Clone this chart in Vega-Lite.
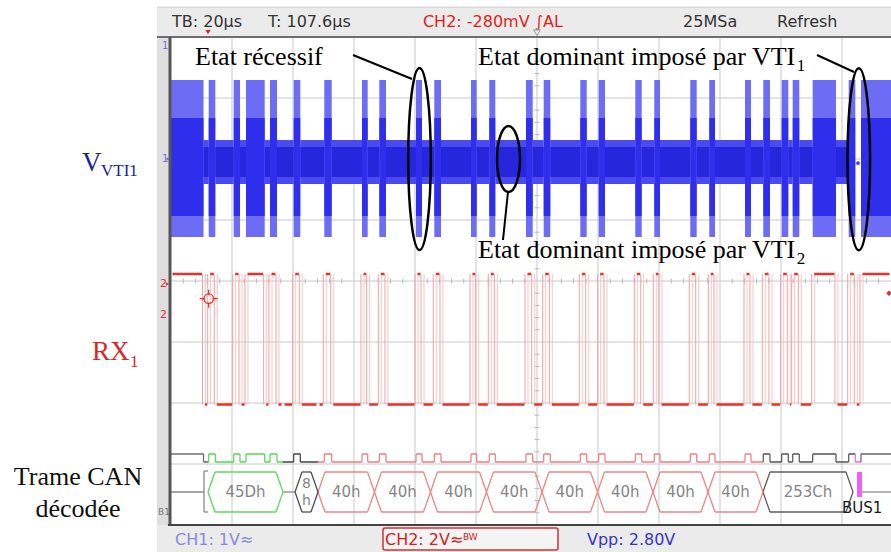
{
"$schema": "https://vega.github.io/schema/vega-lite/v6.json",
"width": 720,
"height": 488,
"autosize": {"type": "none"},
"padding": {"left": 171, "top": 37, "right": 0, "bottom": 27},
"background": "#ffffff",
"config": {"view": {"stroke": null}, "axis": {"disable": true}, "legend": {"disable": true}},
"data": {"values": [{}]},
"datasets": {
"bits": [
{"t0": 0, "t1": 10.66, "rx": 1, "f": "idle"},
{"t0": 10.66, "t1": 12.36, "rx": 0, "f": "idle"},
{"t0": 12.36, "t1": 14.52, "rx": 1, "f": "id"},
{"t0": 14.52, "t1": 20.56, "rx": 0, "f": "id"},
{"t0": 20.56, "t1": 22.62, "rx": 1, "f": "id"},
{"t0": 22.62, "t1": 24.59, "rx": 0, "f": "id"},
{"t0": 24.59, "t1": 30.72, "rx": 1, "f": "id"},
{"t0": 30.72, "t1": 32.46, "rx": 0, "f": "id"},
{"t0": 32.46, "t1": 34.75, "rx": 1, "f": "id"},
{"t0": 34.75, "t1": 36.72, "rx": 0, "f": "id"},
{"t0": 36.72, "t1": 40.23, "rx": 0, "f": "dlc"},
{"t0": 40.23, "t1": 42.39, "rx": 1, "f": "dlc"},
{"t0": 42.39, "t1": 48.2, "rx": 0, "f": "dlc"},
{"t0": 48.2, "t1": 50.26, "rx": 0, "f": "data"},
{"t0": 50.26, "t1": 52.69, "rx": 1, "f": "data"},
{"t0": 52.69, "t1": 62.62, "rx": 0, "f": "data"},
{"t0": 62.62, "t1": 64.49, "rx": 1, "f": "data"},
{"t0": 64.49, "t1": 68.3, "rx": 0, "f": "data"},
{"t0": 68.3, "t1": 70.49, "rx": 1, "f": "data"},
{"t0": 70.49, "t1": 80.33, "rx": 0, "f": "data"},
{"t0": 80.33, "t1": 82.3, "rx": 1, "f": "data"},
{"t0": 82.3, "t1": 86.33, "rx": 0, "f": "data"},
{"t0": 86.33, "t1": 88.52, "rx": 1, "f": "data"},
{"t0": 88.52, "t1": 98.36, "rx": 0, "f": "data"},
{"t0": 98.36, "t1": 100.23, "rx": 1, "f": "data"},
{"t0": 100.23, "t1": 104.36, "rx": 0, "f": "data"},
{"t0": 104.36, "t1": 106.33, "rx": 1, "f": "data"},
{"t0": 106.33, "t1": 116.39, "rx": 0, "f": "data"},
{"t0": 116.39, "t1": 118.59, "rx": 1, "f": "data"},
{"t0": 118.59, "t1": 122.2, "rx": 0, "f": "data"},
{"t0": 122.2, "t1": 124.36, "rx": 1, "f": "data"},
{"t0": 124.36, "t1": 134.2, "rx": 0, "f": "data"},
{"t0": 134.2, "t1": 136.3, "rx": 1, "f": "data"},
{"t0": 136.3, "t1": 140.23, "rx": 0, "f": "data"},
{"t0": 140.23, "t1": 142.3, "rx": 1, "f": "data"},
{"t0": 142.3, "t1": 152.23, "rx": 0, "f": "data"},
{"t0": 152.23, "t1": 154.33, "rx": 1, "f": "data"},
{"t0": 154.33, "t1": 158.46, "rx": 0, "f": "data"},
{"t0": 158.46, "t1": 160.33, "rx": 1, "f": "data"},
{"t0": 160.33, "t1": 170.26, "rx": 0, "f": "data"},
{"t0": 170.26, "t1": 172.36, "rx": 1, "f": "data"},
{"t0": 172.36, "t1": 176.49, "rx": 0, "f": "data"},
{"t0": 176.49, "t1": 178.36, "rx": 1, "f": "data"},
{"t0": 178.36, "t1": 188.2, "rx": 0, "f": "data"},
{"t0": 188.2, "t1": 190.16, "rx": 1, "f": "data"},
{"t0": 190.16, "t1": 194.2, "rx": 0, "f": "data"},
{"t0": 194.2, "t1": 196.39, "rx": 1, "f": "crc"},
{"t0": 196.39, "t1": 200.23, "rx": 0, "f": "crc"},
{"t0": 200.23, "t1": 202.39, "rx": 1, "f": "crc"},
{"t0": 202.39, "t1": 203.84, "rx": 0, "f": "crc"},
{"t0": 203.84, "t1": 206.0, "rx": 1, "f": "crc"},
{"t0": 206.0, "t1": 210.39, "rx": 0, "f": "crc"},
{"t0": 210.39, "t1": 218.03, "rx": 1, "f": "crc"},
{"t0": 218.03, "t1": 222.2, "rx": 0, "f": "crc"},
{"t0": 222.2, "t1": 224.36, "rx": 1, "f": "crc"},
{"t0": 224.36, "t1": 226.23, "rx": 0, "f": "ack"},
{"t0": 226.23, "t1": 236.07, "rx": 1, "f": "eof"}
],
"hex": [
{"t0": 12.13, "t1": 36.72, "label": "45Dh", "f": "id"},
{"t0": 40.66, "t1": 48.2, "label": "8\nh", "f": "dlc"},
{"t0": 48.2, "t1": 66.72, "label": "40h", "f": "data"},
{"t0": 66.72, "t1": 85.08, "label": "40h", "f": "data"},
{"t0": 85.08, "t1": 103.44, "label": "40h", "f": "data"},
{"t0": 103.44, "t1": 121.64, "label": "40h", "f": "data"},
{"t0": 121.64, "t1": 139.84, "label": "40h", "f": "data"},
{"t0": 139.84, "t1": 158.03, "label": "40h", "f": "data"},
{"t0": 158.03, "t1": 176.07, "label": "40h", "f": "data"},
{"t0": 176.07, "t1": 194.1, "label": "40h", "f": "data"},
{"t0": 194.1, "t1": 223.61, "label": "253Ch", "f": "crc"}
]
},
"layer": [
{"mark": {"type": "rect", "color": "#ebebeb"},
 "encoding": {"x": {"datum": -4.59, "type": "quantitative", "scale": {"domain": [0, 236.07], "nice": false, "zero": false}}, "x2": {"datum": 236.07},
  "y": {"datum": 8.49, "type": "quantitative", "scale": {"domain": [0, 8], "nice": false, "zero": false}}, "y2": {"datum": 8}}},
{"mark": {"type": "rect", "color": "#dfdfdf"},
 "encoding": {"x": {"datum": -4.59}, "x2": {"datum": 0}, "y": {"datum": 8}, "y2": {"datum": -0.443}}},
{"mark": {"type": "rect", "color": "#ebebeb"},
 "encoding": {"x": {"datum": -4.59}, "x2": {"datum": 236.07}, "y": {"datum": 0}, "y2": {"datum": -0.443}}},
{"mark": {"type": "rule", "color": "#cfcfcf", "strokeWidth": 1},
 "encoding": {"x": {"datum": -4.59}, "x2": {"datum": 236.07}, "y": {"datum": 8.49}}},

{"data": {"values": [{"g": 20}, {"g": 40}, {"g": 60}, {"g": 80}, {"g": 100}, {"g": 120}, {"g": 140}, {"g": 160}, {"g": 180}, {"g": 200}, {"g": 220}]},
 "mark": {"type": "rule", "color": "#c8c8c8", "strokeWidth": 1},
 "encoding": {"x": {"field": "g", "type": "quantitative"}, "y": {"datum": 0}, "y2": {"datum": 8}}},
{"data": {"values": [{"g": 1}, {"g": 2}, {"g": 3}, {"g": 4}, {"g": 5}, {"g": 6}, {"g": 7}]},
 "mark": {"type": "rule", "color": "#c8c8c8", "strokeWidth": 1},
 "encoding": {"y": {"field": "g", "type": "quantitative"}, "x": {"datum": 0}, "x2": {"datum": 236.07}}},
{"data": {"values": [{"g":4},{"g":8},{"g":12},{"g":16},{"g":24},{"g":28},{"g":32},{"g":36},{"g":44},{"g":48},{"g":52},{"g":56},{"g":64},{"g":68},{"g":72},{"g":76},{"g":84},{"g":88},{"g":92},{"g":96},{"g":104},{"g":108},{"g":112},{"g":116},{"g":124},{"g":128},{"g":132},{"g":136},{"g":144},{"g":148},{"g":152},{"g":156},{"g":164},{"g":168},{"g":172},{"g":176},{"g":184},{"g":188},{"g":192},{"g":196},{"g":204},{"g":208},{"g":212},{"g":216},{"g":224},{"g":228},{"g":232}]},
 "mark": {"type": "rule", "color": "#b8b8b8", "strokeWidth": 1, "yOffset": -2.5, "y2Offset": 2.5},
 "encoding": {"x": {"field": "g", "type": "quantitative"}, "y": {"datum": 4}, "y2": {"datum": 4}}},
{"data": {"values": [{"g":0.2},{"g":0.4},{"g":0.6},{"g":0.8},{"g":1.2},{"g":1.4},{"g":1.6},{"g":1.8},{"g":2.2},{"g":2.4},{"g":2.6},{"g":2.8},{"g":3.2},{"g":3.4},{"g":3.6},{"g":3.8},{"g":4.2},{"g":4.4},{"g":4.6},{"g":4.8},{"g":5.2},{"g":5.4},{"g":5.6},{"g":5.8},{"g":6.2},{"g":6.4},{"g":6.6},{"g":6.8},{"g":7.2},{"g":7.4},{"g":7.6},{"g":7.8}]},
 "mark": {"type": "rule", "color": "#b8b8b8", "strokeWidth": 1, "xOffset": -2.5, "x2Offset": 2.5},
 "encoding": {"y": {"field": "g", "type": "quantitative"}, "x": {"datum": 120}, "x2": {"datum": 120}}},

{"data": {"name": "bits"}, "transform": [{"filter": "datum.rx == 1"}],
 "mark": {"type": "rect", "color": "#6c6cf5"},
 "encoding": {"x": {"field": "t0", "type": "quantitative"}, "x2": {"field": "t1"}, "y": {"datum": 7.295}, "y2": {"datum": 4.72}}},
{"data": {"name": "bits"}, "transform": [{"filter": "datum.rx == 1"}],
 "mark": {"type": "rect", "color": "#2e2eec"},
 "encoding": {"x": {"field": "t0", "type": "quantitative"}, "x2": {"field": "t1"}, "y": {"datum": 6.672}, "y2": {"datum": 5.066}}},
{"data": {"name": "bits"}, "transform": [{"filter": "datum.rx == 0 && datum.f != 'ack'"}],
 "mark": {"type": "rect", "color": "#4a4aef"},
 "encoding": {"x": {"field": "t0", "type": "quantitative"}, "x2": {"field": "t1"}, "y": {"datum": 6.311}, "y2": {"datum": 5.59}}},
{"data": {"name": "bits"}, "transform": [{"filter": "datum.rx == 0 && datum.f != 'ack'"}],
 "mark": {"type": "rect", "color": "#2626dd"},
 "encoding": {"x": {"field": "t0", "type": "quantitative"}, "x2": {"field": "t1"}, "y": {"datum": 6.197}, "y2": {"datum": 5.705}}},
{"mark": {"type": "point", "filled": true, "color": "#3a3ae6", "size": 14, "opacity": 1},
 "encoding": {"x": {"datum": 225.25}, "y": {"datum": 5.934}}},

{"data": {"name": "bits"}, "transform": [{"window": [{"op": "lag", "field": "rx", "as": "prev"}], "sort": [{"field": "t0", "order": "ascending"}]}, {"filter": "datum.prev != null && datum.prev != datum.rx"}],
 "mark": {"type": "rule", "color": "#f3a0a0", "strokeWidth": 1, "xOffset": -1},
 "encoding": {"x": {"field": "t0", "type": "quantitative"}, "y": {"datum": 1.975}, "y2": {"datum": 4.115}}},
{"data": {"name": "bits"}, "transform": [{"window": [{"op": "lag", "field": "rx", "as": "prev"}], "sort": [{"field": "t0", "order": "ascending"}]}, {"filter": "datum.prev != null && datum.prev != datum.rx"}],
 "mark": {"type": "rule", "color": "#f8c6c6", "strokeWidth": 1, "xOffset": 2},
 "encoding": {"x": {"field": "t0", "type": "quantitative"}, "y": {"datum": 1.975}, "y2": {"datum": 4.115}}},
{"data": {"name": "bits"}, "transform": [{"filter": "datum.rx == 1"}],
 "mark": {"type": "rule", "color": "#e5322d", "strokeWidth": 2.5, "xOffset": 1.5, "x2Offset": -1.5},
 "encoding": {"x": {"field": "t0", "type": "quantitative"}, "x2": {"field": "t1"}, "y": {"datum": 4.115}}},
{"data": {"name": "bits"}, "transform": [{"filter": "datum.rx == 0"}],
 "mark": {"type": "rule", "color": "#e5322d", "strokeWidth": 2.5, "xOffset": 1.5, "x2Offset": -1.5},
 "encoding": {"x": {"field": "t0", "type": "quantitative"}, "x2": {"field": "t1"}, "y": {"datum": 1.975}}},

{"data": {"name": "bits"}, "transform": [{"filter": "datum.rx == 1"}],
 "mark": {"type": "rule", "strokeWidth": 1.6},
 "encoding": {"x": {"field": "t0", "type": "quantitative"}, "x2": {"field": "t1"}, "y": {"datum": 1.164},
  "color": {"field": "f", "type": "nominal", "scale": {"domain": ["idle", "id", "dlc", "data", "crc", "ack", "eof"], "range": ["#6e6e6e", "#5fd85f", "#4e4e4e", "#ef8585", "#5e5e5e", "#ef6cef", "#6e6e6e"]}}}},
{"data": {"name": "bits"}, "transform": [{"filter": "datum.rx == 0"}],
 "mark": {"type": "rule", "strokeWidth": 1.6},
 "encoding": {"x": {"field": "t0", "type": "quantitative"}, "x2": {"field": "t1"}, "y": {"datum": 1.033},
  "color": {"field": "f", "type": "nominal"}}},
{"data": {"name": "bits"}, "transform": [{"window": [{"op": "lag", "field": "rx", "as": "prev"}], "sort": [{"field": "t0", "order": "ascending"}]}, {"filter": "datum.prev != null && datum.prev != datum.rx"}],
 "mark": {"type": "rule", "strokeWidth": 1.3},
 "encoding": {"x": {"field": "t0", "type": "quantitative"}, "y": {"datum": 1.033}, "y2": {"datum": 1.164},
  "color": {"field": "f", "type": "nominal"}}},

{"data": {"values": [{"t0": 0, "t1": 10.82}, {"t0": 36.72, "t1": 40.66}, {"t0": 226.56, "t1": 236.07}]},
 "mark": {"type": "rule", "color": "#8a8a8a", "strokeWidth": 1.3},
 "encoding": {"x": {"field": "t0", "type": "quantitative"}, "x2": {"field": "t1"}, "y": {"datum": 0.541}}},
{"mark": {"type": "rule", "color": "#8a8a8a", "strokeWidth": 1.3},
 "encoding": {"x": {"datum": 10.82}, "y": {"datum": 0.213}, "y2": {"datum": 0.885}}},
{"mark": {"type": "rule", "color": "#8a8a8a", "strokeWidth": 1.3},
 "encoding": {"x": {"datum": 10.82}, "x2": {"datum": 12.13}, "y": {"datum": 0.885}}},
{"mark": {"type": "rule", "color": "#8a8a8a", "strokeWidth": 1.3},
 "encoding": {"x": {"datum": 10.82}, "x2": {"datum": 12.13}, "y": {"datum": 0.213}}},

{"data": {"name": "hex"},
 "mark": {"type": "rule", "strokeWidth": 1.3, "xOffset": 7, "x2Offset": -7},
 "encoding": {"x": {"field": "t0", "type": "quantitative"}, "x2": {"field": "t1"}, "y": {"datum": 0.869}, "color": {"field": "f", "type": "nominal"}}},
{"data": {"name": "hex"},
 "mark": {"type": "rule", "strokeWidth": 1.3, "xOffset": 7, "x2Offset": -7},
 "encoding": {"x": {"field": "t0", "type": "quantitative"}, "x2": {"field": "t1"}, "y": {"datum": 0.213}, "color": {"field": "f", "type": "nominal"}}},
{"data": {"name": "hex"},
 "mark": {"type": "rule", "strokeWidth": 1.3, "x2Offset": 7},
 "encoding": {"x": {"field": "t0", "type": "quantitative"}, "x2": {"field": "t0"}, "y": {"datum": 0.541}, "y2": {"datum": 0.869}, "color": {"field": "f", "type": "nominal"}}},
{"data": {"name": "hex"},
 "mark": {"type": "rule", "strokeWidth": 1.3, "x2Offset": 7},
 "encoding": {"x": {"field": "t0", "type": "quantitative"}, "x2": {"field": "t0"}, "y": {"datum": 0.541}, "y2": {"datum": 0.213}, "color": {"field": "f", "type": "nominal"}}},
{"data": {"name": "hex"},
 "mark": {"type": "rule", "strokeWidth": 1.3, "x2Offset": -7},
 "encoding": {"x": {"field": "t1", "type": "quantitative"}, "x2": {"field": "t1"}, "y": {"datum": 0.541}, "y2": {"datum": 0.869}, "color": {"field": "f", "type": "nominal"}}},
{"data": {"name": "hex"},
 "mark": {"type": "rule", "strokeWidth": 1.3, "x2Offset": -7},
 "encoding": {"x": {"field": "t1", "type": "quantitative"}, "x2": {"field": "t1"}, "y": {"datum": 0.541}, "y2": {"datum": 0.213}, "color": {"field": "f", "type": "nominal"}}},
{"data": {"name": "hex"}, "transform": [{"filter": "datum.f != 'dlc'"}, {"calculate": "(datum.t0 + datum.t1) / 2", "as": "tm"}],
 "mark": {"type": "text", "font": "DejaVu Sans", "fontSize": 15, "color": "#858585", "align": "center", "baseline": "middle"},
 "encoding": {"x": {"field": "tm", "type": "quantitative"}, "y": {"datum": 0.541}, "text": {"field": "label"}}},
{"data": {"name": "hex"}, "transform": [{"filter": "datum.f == 'dlc'"}, {"calculate": "(datum.t0 + datum.t1) / 2", "as": "tm"}],
 "mark": {"type": "text", "font": "DejaVu Sans", "fontSize": 14, "color": "#858585", "align": "center", "baseline": "middle", "lineBreak": "\n", "lineHeight": 17, "dy": -8},
 "encoding": {"x": {"field": "tm", "type": "quantitative"}, "y": {"datum": 0.541}, "text": {"field": "label"}}},
{"mark": {"type": "rect", "color": "#f55cf5"},
 "encoding": {"x": {"datum": 224.92}, "x2": {"datum": 226.56}, "y": {"datum": 0.459}, "y2": {"datum": 0.869}}},
{"mark": {"type": "text", "text": "BUS1", "font": "DejaVu Sans", "fontSize": 15, "color": "#1a1a1a", "align": "left", "baseline": "alphabetic"},
 "encoding": {"x": {"datum": 220.0}, "y": {"datum": 0.197}}},

{"mark": {"type": "point", "shape": "M0,-1C0.0685,-1 0.124,-0.5523 0.124,0C0.124,0.5523 0.0685,1 0,1C-0.0685,1 -0.124,0.5523 -0.124,0C-0.124,-0.5523 -0.0685,-1 0,-1Z", "size": 33124, "filled": false, "color": "#000000", "strokeWidth": 2.5, "opacity": 1},
 "encoding": {"x": {"datum": 81.48}, "y": {"datum": 6.0}}},
{"mark": {"type": "point", "shape": "M0,-1C0.0685,-1 0.124,-0.5523 0.124,0C0.124,0.5523 0.0685,1 0,1C-0.0685,1 -0.124,0.5523 -0.124,0C-0.124,-0.5523 -0.0685,-1 0,-1Z", "size": 33124, "filled": false, "color": "#000000", "strokeWidth": 2.5, "opacity": 1},
 "encoding": {"x": {"datum": 225.51}, "y": {"datum": 5.997}}},
{"mark": {"type": "point", "shape": "M0,-1C0.1923,-1 0.348,-0.5523 0.348,0C0.348,0.5523 0.1923,1 0,1C-0.1923,1 -0.348,0.5523 -0.348,0C-0.348,-0.5523 -0.1923,-1 0,-1Z", "size": 4356, "filled": false, "color": "#000000", "strokeWidth": 2.5, "opacity": 1},
 "encoding": {"x": {"datum": 110.66}, "y": {"datum": 6.0}}},
{"mark": {"type": "rule", "color": "#000000", "strokeWidth": 2},
 "encoding": {"x": {"datum": 59.67}, "x2": {"datum": 79.02}, "y": {"datum": 7.705}, "y2": {"datum": 7.311}}},
{"mark": {"type": "rule", "color": "#000000", "strokeWidth": 2},
 "encoding": {"x": {"datum": 211.8}, "x2": {"datum": 223.93}, "y": {"datum": 7.705}, "y2": {"datum": 7.426}}},
{"mark": {"type": "rule", "color": "#000000", "strokeWidth": 2},
 "encoding": {"x": {"datum": 110.49}, "x2": {"datum": 108.85}, "y": {"datum": 5.459}, "y2": {"datum": 4.672}}},
{"mark": {"type": "text", "text": "Etat récessif", "font": "Liberation Serif", "fontSize": 26, "color": "#000000", "align": "left", "baseline": "alphabetic"},
 "encoding": {"x": {"datum": 7.87}, "y": {"datum": 7.541}}},
{"mark": {"type": "text", "text": "Etat dominant imposé par VTI", "font": "Liberation Serif", "fontSize": 26, "color": "#000000", "align": "left", "baseline": "alphabetic"},
 "encoding": {"x": {"datum": 100.66}, "y": {"datum": 7.541}}},
{"mark": {"type": "text", "text": "1", "font": "Liberation Serif", "fontSize": 17, "color": "#000000", "align": "left", "baseline": "alphabetic"},
 "encoding": {"x": {"datum": 205.2}, "y": {"datum": 7.443}}},
{"mark": {"type": "text", "text": "Etat dominant imposé par VTI", "font": "Liberation Serif", "fontSize": 26, "color": "#000000", "align": "left", "baseline": "alphabetic"},
 "encoding": {"x": {"datum": 100.66}, "y": {"datum": 4.377}}},
{"mark": {"type": "text", "text": "2", "font": "Liberation Serif", "fontSize": 17, "color": "#000000", "align": "left", "baseline": "alphabetic"},
 "encoding": {"x": {"datum": 205.2}, "y": {"datum": 4.279}}},

{"mark": {"type": "text", "text": "V", "font": "Liberation Serif", "fontSize": 27, "color": "#1e1e96", "align": "left", "baseline": "alphabetic"},
 "encoding": {"x": {"datum": -29.18}, "y": {"datum": 5.803}}},
{"mark": {"type": "text", "text": "VTI1", "font": "Liberation Serif", "fontSize": 17, "color": "#1e1e96", "align": "left", "baseline": "alphabetic"},
 "encoding": {"x": {"datum": -22.95}, "y": {"datum": 5.721}}},
{"mark": {"type": "text", "text": "RX", "font": "Liberation Serif", "fontSize": 27, "color": "#d92626", "align": "left", "baseline": "alphabetic"},
 "encoding": {"x": {"datum": -25.9}, "y": {"datum": 2.705}}},
{"mark": {"type": "text", "text": "1", "font": "Liberation Serif", "fontSize": 17, "color": "#d92626", "align": "left", "baseline": "alphabetic"},
 "encoding": {"x": {"datum": -13.44}, "y": {"datum": 2.59}}},
{"mark": {"type": "text", "text": "Trame CAN", "font": "Liberation Serif", "fontSize": 26, "color": "#111111", "align": "center", "baseline": "alphabetic"},
 "encoding": {"x": {"datum": -30.49}, "y": {"datum": 0.656}}},
{"mark": {"type": "text", "text": "décodée", "font": "Liberation Serif", "fontSize": 26, "color": "#111111", "align": "center", "baseline": "alphabetic"},
 "encoding": {"x": {"datum": -30.49}, "y": {"datum": 0.131}}},

{"mark": {"type": "text", "text": "TB: 20µs", "font": "DejaVu Sans", "fontSize": 16, "color": "#333333", "align": "left", "baseline": "alphabetic"},
 "encoding": {"x": {"datum": 0.33}, "y": {"datum": 8.164}}},
{"mark": {"type": "text", "text": "T: 107.6µs", "font": "DejaVu Sans", "fontSize": 16, "color": "#333333", "align": "left", "baseline": "alphabetic"},
 "encoding": {"x": {"datum": 31.8}, "y": {"datum": 8.164}}},
{"mark": {"type": "text", "text": "CH2: -280mV ∫AL", "font": "DejaVu Sans", "fontSize": 16, "color": "#e01e1e", "align": "left", "baseline": "alphabetic"},
 "encoding": {"x": {"datum": 82.6}, "y": {"datum": 8.164}}},
{"mark": {"type": "text", "text": "25MSa", "font": "DejaVu Sans", "fontSize": 16, "color": "#333333", "align": "left", "baseline": "alphabetic"},
 "encoding": {"x": {"datum": 167.9}, "y": {"datum": 8.164}}},
{"mark": {"type": "text", "text": "Refresh", "font": "DejaVu Sans", "fontSize": 16, "color": "#333333", "align": "left", "baseline": "alphabetic"},
 "encoding": {"x": {"datum": 198.7}, "y": {"datum": 8.164}}},
{"mark": {"type": "point", "shape": "triangle-down", "filled": true, "color": "#e01e1e", "size": 25, "opacity": 1},
 "encoding": {"x": {"datum": 12.13}, "y": {"datum": 8.08}}},
{"mark": {"type": "point", "shape": "triangle-down", "filled": false, "color": "#999999", "size": 45, "strokeWidth": 1, "opacity": 1},
 "encoding": {"x": {"datum": 120}, "y": {"datum": 8.07}}},

{"mark": {"type": "rect", "fill": "#f4f4f4", "stroke": "#d63030", "strokeWidth": 1.5, "cornerRadius": 2},
 "encoding": {"x": {"datum": 69.51}, "x2": {"datum": 126.89}, "y": {"datum": -0.049}, "y2": {"datum": -0.41}}},
{"mark": {"type": "text", "text": "CH1: 1V≈", "font": "DejaVu Sans", "fontSize": 16, "color": "#8a8ad8", "align": "left", "baseline": "alphabetic"},
 "encoding": {"x": {"datum": 1.31}, "y": {"datum": -0.328}}},
{"mark": {"type": "text", "text": "CH2: 2V≈", "font": "DejaVu Sans", "fontSize": 16, "color": "#d42020", "align": "left", "baseline": "alphabetic"},
 "encoding": {"x": {"datum": 70.16}, "y": {"datum": -0.328}}},
{"mark": {"type": "text", "text": "BW", "font": "DejaVu Sans", "fontSize": 9, "color": "#d42020", "align": "left", "baseline": "alphabetic"},
 "encoding": {"x": {"datum": 95.74}, "y": {"datum": -0.245}}},
{"mark": {"type": "text", "text": "Vpp: 2.80V", "font": "DejaVu Sans", "fontSize": 16, "color": "#3636c8", "align": "left", "baseline": "alphabetic"},
 "encoding": {"x": {"datum": 136.4}, "y": {"datum": -0.328}}},

{"mark": {"type": "text", "text": "1", "font": "DejaVu Sans", "fontSize": 10, "color": "#7070e0", "align": "left", "baseline": "alphabetic"},
 "encoding": {"x": {"datum": -2.95}, "y": {"datum": 7.8}}},
{"mark": {"type": "text", "text": "1", "font": "DejaVu Sans", "fontSize": 10, "color": "#7070e0", "align": "left", "baseline": "alphabetic"},
 "encoding": {"x": {"datum": -2.95}, "y": {"datum": 5.95}}},
{"mark": {"type": "point", "shape": "triangle-right", "filled": true, "color": "#7070e0", "size": 12, "opacity": 1},
 "encoding": {"x": {"datum": -0.98}, "y": {"datum": 6.0}}},
{"mark": {"type": "text", "text": "2", "font": "DejaVu Sans", "fontSize": 11, "color": "#e03030", "align": "left", "baseline": "alphabetic"},
 "encoding": {"x": {"datum": -3.61}, "y": {"datum": 3.9}}},
{"mark": {"type": "point", "shape": "triangle-right", "filled": true, "color": "#e03030", "size": 12, "opacity": 1},
 "encoding": {"x": {"datum": -1.15}, "y": {"datum": 3.95}}},
{"mark": {"type": "text", "text": "2", "font": "DejaVu Sans", "fontSize": 11, "color": "#e03030", "align": "left", "baseline": "alphabetic"},
 "encoding": {"x": {"datum": -3.61}, "y": {"datum": 3.39}}},
{"mark": {"type": "text", "text": "B1", "font": "DejaVu Sans", "fontSize": 9, "color": "#777777", "align": "left", "baseline": "alphabetic"},
 "encoding": {"x": {"datum": -4.26}, "y": {"datum": 0.164}}},
{"mark": {"type": "point", "shape": "circle", "filled": false, "color": "#e03030", "size": 90, "strokeWidth": 1.3, "opacity": 1},
 "encoding": {"x": {"datum": 12.36}, "y": {"datum": 3.71}}},
{"mark": {"type": "point", "shape": "M0,-1L0,-0.45M0,0.45L0,1M-1,0L-0.45,0M0.45,0L1,0", "filled": false, "color": "#e03030", "size": 324, "strokeWidth": 1.3, "opacity": 1},
 "encoding": {"x": {"datum": 12.36}, "y": {"datum": 3.71}}},
{"mark": {"type": "point", "shape": "diamond", "filled": true, "color": "#e03030", "size": 30, "opacity": 1},
 "encoding": {"x": {"datum": 235.4}, "y": {"datum": 3.8}}},

{"mark": {"type": "rule", "color": "#6e6e6e", "strokeWidth": 2},
 "encoding": {"x": {"datum": -4.59}, "x2": {"datum": 236.07}, "y": {"datum": 8}}},
{"mark": {"type": "rule", "color": "#555555", "strokeWidth": 3, "xOffset": -1},
 "encoding": {"x": {"datum": 0}, "y": {"datum": 0}, "y2": {"datum": 8}}},
{"mark": {"type": "rule", "color": "#444444", "strokeWidth": 2},
 "encoding": {"x": {"datum": -1}, "x2": {"datum": 236.07}, "y": {"datum": 0}}}
]
}
